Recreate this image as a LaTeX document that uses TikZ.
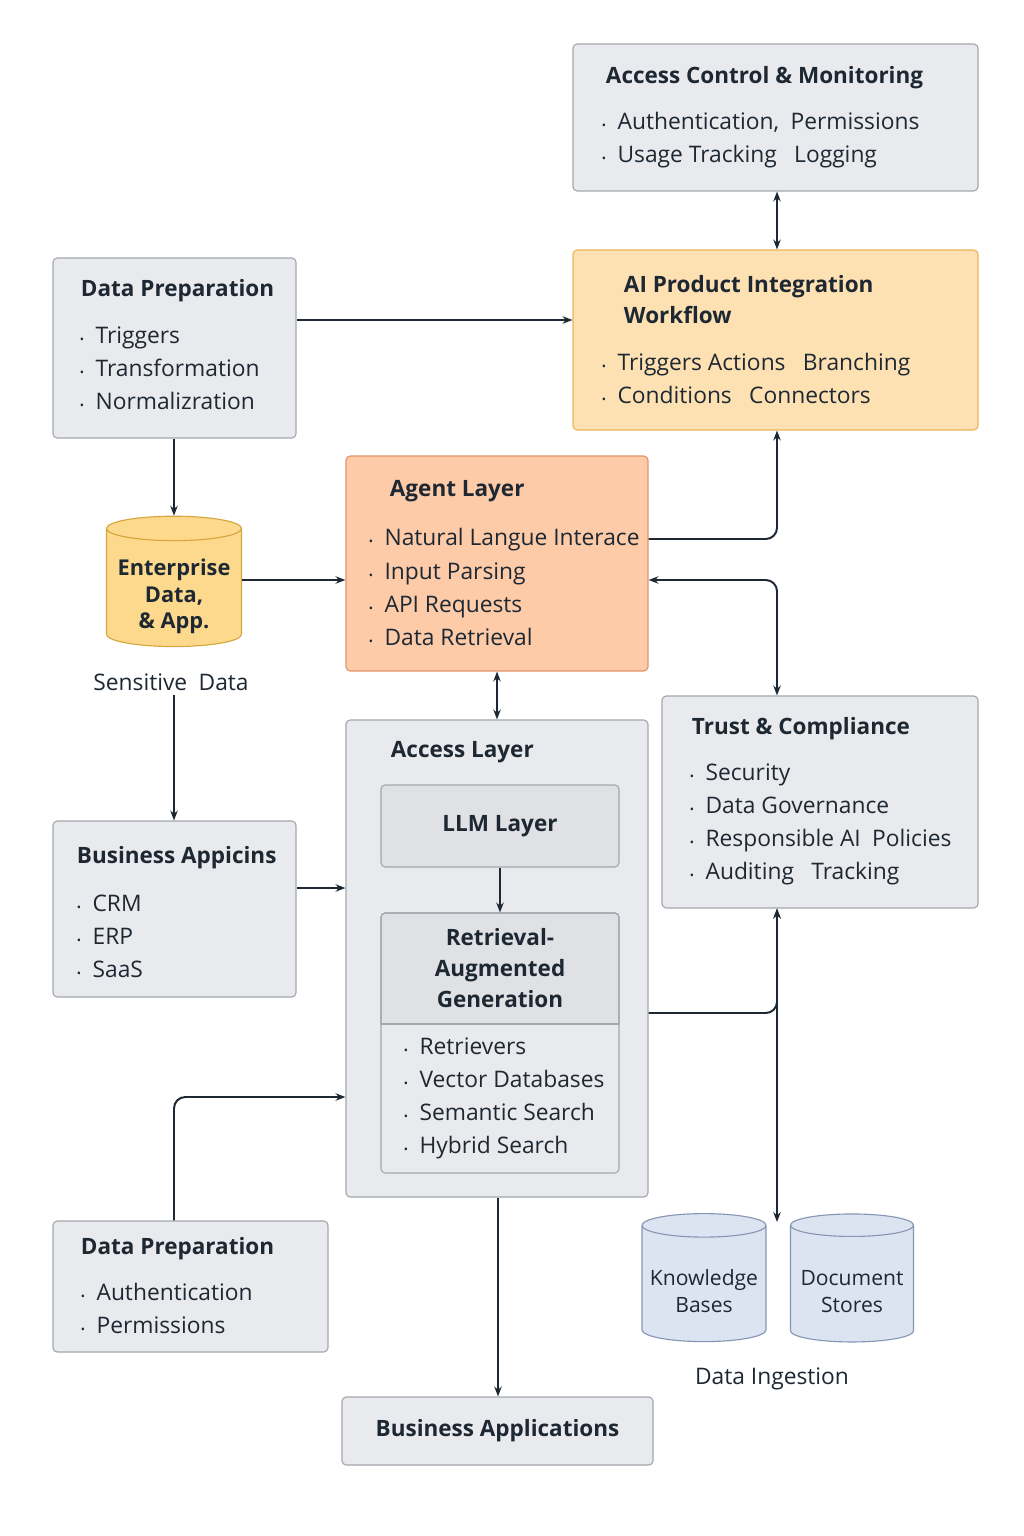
\documentclass[tikz,border=0pt]{standalone}
\usepackage{fontspec}
\setmainfont{Open Sans}
\usetikzlibrary{shapes.geometric,arrows.meta,positioning}
\definecolor{boxgray}{HTML}{E9EAED}
\definecolor{boxline}{HTML}{A3A7AE}
\definecolor{innergray}{HTML}{DFE1E4}
\definecolor{aifill}{HTML}{FDE1B2}
\definecolor{ailine}{HTML}{EFB35A}
\definecolor{agfill}{HTML}{FDCBA8}
\definecolor{agline}{HTML}{E3936A}
\definecolor{cylfill}{HTML}{FDD98E}
\definecolor{cylline}{HTML}{D7A63E}
\definecolor{dbfill}{HTML}{DCE4F2}
\definecolor{dbline}{HTML}{8797B3}
\definecolor{ink}{HTML}{1E2833}
\tikzset{
  box/.style={draw=boxline, fill=boxgray, rounded corners=3pt, line width=0.8pt},
  inbox/.style={draw=boxline, fill=innergray, rounded corners=3pt, line width=0.8pt},
  ttl/.style={anchor=west, font=\fontsize{16}{22}\selectfont\bfseries, text=ink, align=left},
  itm/.style={anchor=west, font=\fontsize{16.2}{23.5}\selectfont, text=ink, align=left},
  arr/.style={draw=ink, line width=1.4pt, -{Stealth[length=7pt]}, rounded corners=8pt},
  darr/.style={draw=ink, line width=1.4pt, {Stealth[length=7pt]}-{Stealth[length=7pt]}, rounded corners=8pt},
  cyl/.style={cylinder, shape border rotate=90, aspect=0.2, draw, line width=0.8pt, align=center, text=ink}
}
\newcommand{\pbox}[6]{\node[#6, minimum width={(#4-#2)*0.025cm}, minimum height={(#5-#3)*0.025cm}] (#1) at ({(#2+#4)/2},{(#3+#5)/2}) {};}
\newcommand{\bl}{{\footnotesize\textbullet}\enspace}
\begin{document}
\begin{tikzpicture}[x=0.025cm, y=-0.025cm]
    \useasboundingbox[fill=white] (0,0) rectangle (1024,1536);
    % Boxes
    \pbox{acm}{573}{44}{978}{191}{box}
    \pbox{aip}{573}{250}{978}{430}{box, fill=aifill, draw=ailine}
    \pbox{dpa}{53}{258}{296}{438}{box}
    \pbox{agl}{346}{456}{648}{671}{box, fill=agfill, draw=agline}
    \pbox{acl}{346}{720}{648}{1197}{box}
    \pbox{llm}{381}{785}{619}{867}{inbox}
    \pbox{rag}{381}{913}{619}{1173}{box}
    \pbox{trc}{662}{696}{978}{908}{box}
    \pbox{bap}{53}{821}{296}{997}{box}
    \pbox{dpb}{53}{1221}{328}{1352}{box}
    \pbox{bus}{342}{1397}{653}{1465}{box}
    \fill[innergray, rounded corners=3pt] (382,914) rectangle (618,1024);
    \draw[boxline, line width=0.8pt] (381,1024) -- (619,1024);
    \draw[boxline, line width=0.8pt, rounded corners=3pt] (381,1024) -- (381,913) -- (619,913) -- (619,1024);

    % Cylinders
    \node[cyl, fill=cylfill, draw=cylline, minimum width=135*0.025cm, minimum height=124*0.025cm,
      font=\fontsize{15.5}{19}\selectfont\bfseries] (ent) at (174,590) {\\[2pt]Enterprise\\Data,\\\& App.};
    \node[cyl, fill=dbfill, draw=dbline, minimum width=124*0.025cm, minimum height=128*0.025cm,
      font=\fontsize{15}{19}\selectfont] (kbs) at (704,1286) {\\Knowledge\\Bases};
    \node[cyl, fill=dbfill, draw=dbline, minimum width=123*0.025cm, minimum height=128*0.025cm,
      font=\fontsize{15}{19}\selectfont] (dst) at (852,1286) {\\Document\\Stores};

    % Texts
    \node[ttl] at (601,78) {Access Control \& Monitoring};
    \node[itm] at (597,140) {\bl Authentication,\enspace Permissions\\\bl Usage Tracking\enspace\ Logging};
    \node[ttl] at (619,300) {AI Product Integration\\Workflow};
    \node[itm] at (597,378) {\bl Triggers Actions\enspace\ Branching\\\bl Conditions\enspace\ Connectors};
    \node[ttl] at (76,291) {Data Preparation};
    \node[itm] at (75,368) {\bl Triggers\\\bl Transformation\\\bl Normalizration};
    \node[ttl] at (385,491) {Agent Layer};
    \node[itm] at (364,587) {\bl Natural Langue Interace\\\bl Input Parsing\\\bl API Requests\\\bl Data Retrieval};
    \node[itm, anchor=center] (snd) at (171,682) {Sensitive\enspace Data};
    \node[ttl] at (386,752) {Access Layer};
    \node[ttl, anchor=center] at (llm) {LLM Layer};
    \node[ttl, anchor=center, align=center] at (500,968) {Retrieval-\\Augmented\\Generation};
    \node[itm] at (399,1098) {\bl Retrievers\\\bl Vector Databases\\\bl Semantic Search\\\bl Hybrid Search};
    \node[ttl] at (687,729) {Trust \& Compliance};
    \node[itm] at (685,824) {\bl Security\\\bl Data Governance\\\bl Responsible AI\enspace Policies\\\bl Auditing\enspace\ Tracking};
    \node[ttl] at (72,858) {Business Appicins};
    \node[itm] at (72,936) {\bl CRM\\\bl ERP\\\bl SaaS};
    \node[ttl] at (76,1249) {Data Preparation};
    \node[itm] at (76,1308) {\bl Authentication\\\bl Permissions};
    \node[ttl, anchor=center] at (bus) {Business Applications};
    \node[itm, anchor=center] (din) at (772,1379) {Data Ingestion};

    % Connectors
    \draw[arr] (dpa.east |- 0,320) -- (aip.west |- 0,320);
    \draw[darr] (acm.south -| 777,0) -- (aip.north -| 777,0);
    \draw[arr] (dpa.south -| 174,0) -- (ent.top);
    \draw[arr] (ent.east |- 0,580) -- (agl.west |- 0,580);
    \draw[arr] (agl.east |- 0,539) -- (777,539) -- (aip.south -| 777,0);
    \draw[darr] (agl.east |- 0,580) -- (777,580) -- (trc.north -| 777,0);
    \draw[darr] (agl.south -| 497,0) -- (acl.north -| 497,0);
    \draw[arr] (snd.south -| 174,0) -- (bap.north -| 174,0);
    \draw[arr] (bap.east |- 0,888) -- (acl.west |- 0,888);
    \draw[arr] (llm.south) -- (rag.north);
    \draw[arr] (acl.east |- 0,1013) -- (777,1013) -- (trc.south -| 777,0);
    \draw[darr] (trc.south -| 777,0) -- (777,1222);
    \draw[arr] (dpb.north -| 174,0) -- (174,1097) -- (acl.west |- 0,1097);
    \draw[arr] (acl.south -| 498,0) -- (bus.north -| 498,0);
\end{tikzpicture}
\end{document}
